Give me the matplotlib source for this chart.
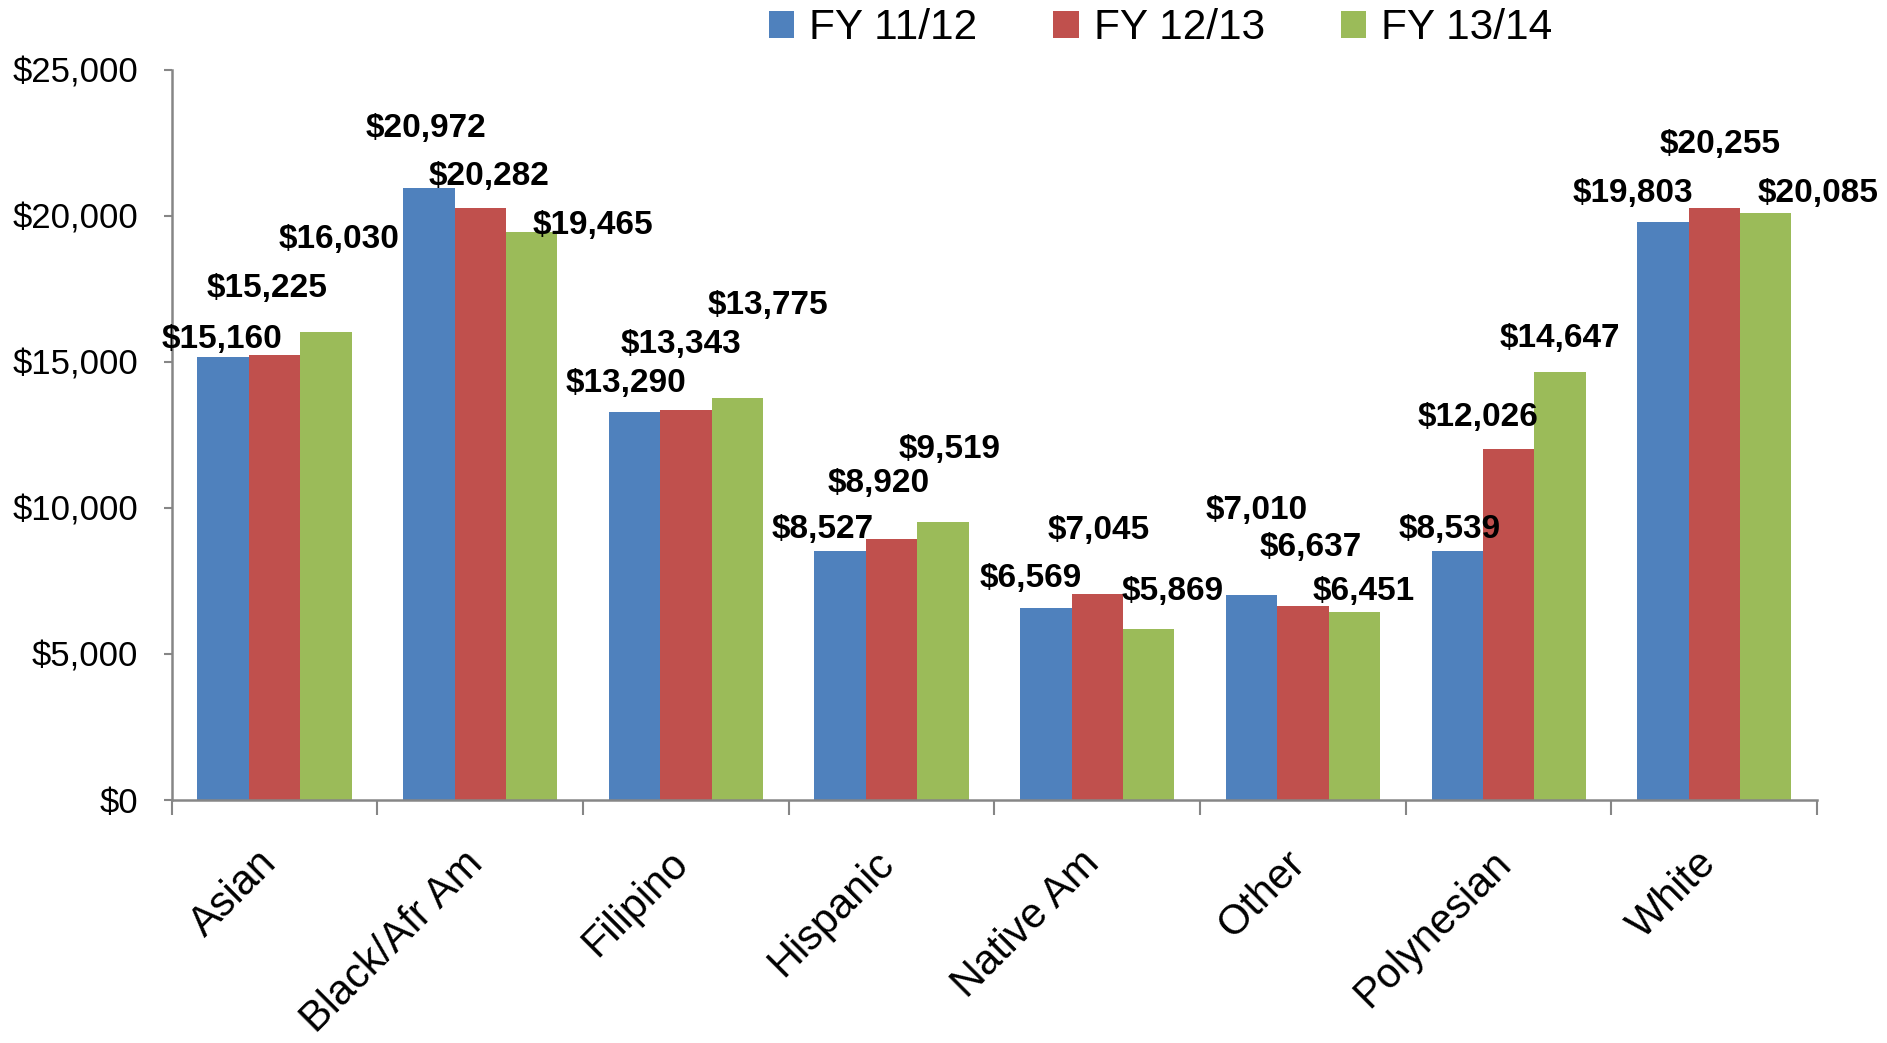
import numpy as np
import matplotlib
matplotlib.use("Agg")
import matplotlib.pyplot as plt
from matplotlib.ticker import FuncFormatter, MultipleLocator, FixedLocator

plt.rcParams['font.family'] = ['Liberation Sans', 'DejaVu Sans']

categories = ['Asian', 'Black/Afr Am', 'Filipino', 'Hispanic',
              'Native Am', 'Other', 'Polynesian', 'White']
series = ['FY 11/12', 'FY 12/13', 'FY 13/14']
fy1112 = [15160, 20972, 13290, 8527, 6569, 7010, 8539, 19803]
fy1213 = [15225, 20282, 13343, 8920, 7045, 6637, 12026, 20255]
fy1314 = [16030, 19465, 13775, 9519, 5869, 6451, 14647, 20085]
values = [fy1112, fy1213, fy1314]
colors = ['#4F81BD', '#C0504D', '#9BBB59']

# label placement (x in category units, y in data units), as in the original layout
label_x = [
    [-0.254, 0.734, 1.711, 2.664, 3.675, 4.775, 5.711, 6.605],
    [-0.038, 1.044, 1.974, 2.939, 4.009, 5.038, 5.851, 7.026],
    [0.313, 1.547, 2.401, 3.284, 4.365, 5.295, 6.249, 7.506],
]
label_y = [
    [15774, 22982, 14250, 9267, 7578, 9926, 9267, 20758],
    [17504, 21334, 15610, 10832, 9226, 8649, 13097, 22446],
    [19193, 19687, 16928, 11985, 7125, 7125, 15815, 20758],
]

fig = plt.figure(figsize=(18.87, 10.43), dpi=100)
ax = fig.add_axes([0.091, 0.233, 0.872, 0.700])

x = np.arange(len(categories))
width = 0.25
for k in range(3):
    ax.bar(x + (k - 1) * width, values[k], width, color=colors[k],
           label=series[k], edgecolor='none')
    for i in range(len(categories)):
        ax.text(label_x[k][i], label_y[k][i], '${:,}'.format(values[k][i]),
                ha='center', va='center', fontsize=24, fontweight='bold')

ax.set_xlim(-0.5, len(categories) - 0.5)
ax.set_ylim(0, 25000)
ax.yaxis.set_major_locator(MultipleLocator(5000))
ax.yaxis.set_major_formatter(FuncFormatter(lambda v, p: '${:,.0f}'.format(v)))

# category names sit a touch right of the group centre, like the original
ax.set_xticks(x + 0.05)
ax.set_xticklabels(categories, rotation=45, ha='right', va='top')
ax.xaxis.set_minor_locator(FixedLocator(np.arange(-0.5, len(categories), 1)))

grey = '#868686'
for s in ['top', 'right']:
    ax.spines[s].set_visible(False)
for s in ['left', 'bottom']:
    ax.spines[s].set_color(grey)
    ax.spines[s].set_linewidth(1.8)

ax.tick_params(axis='y', direction='out', length=6, width=1.5, color=grey,
               labelsize=25, pad=18)
ax.tick_params(axis='x', which='major', length=0, labelsize=30, pad=31)
ax.tick_params(axis='x', which='minor', direction='out', length=11, width=1.5,
               color=grey)

fig.legend(loc='center', bbox_to_anchor=(0.615, 0.973), ncol=3, frameon=False,
           fontsize=30.5, handlelength=0.6, handleheight=0.62, handletextpad=0.35,
           columnspacing=1.8)

fig.savefig('out.png', dpi=100)
